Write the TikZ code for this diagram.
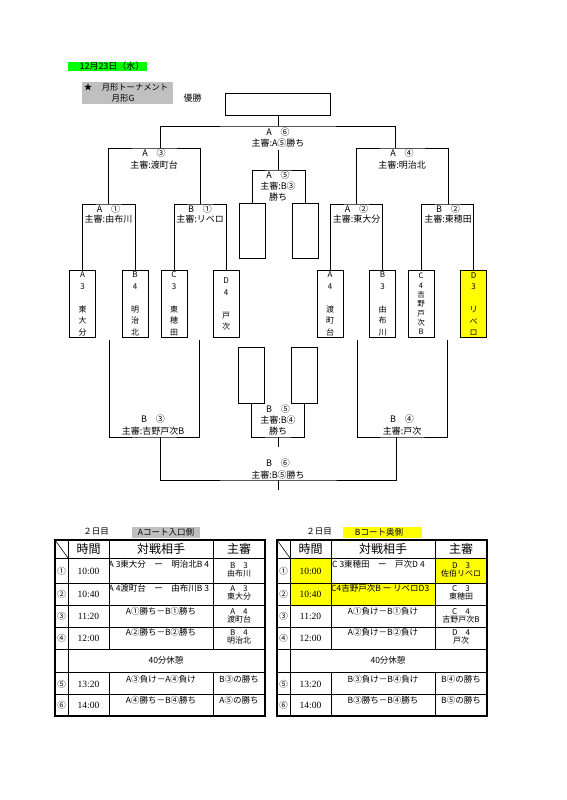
\documentclass[tikz,border=0pt]{standalone}
\usepackage{fontspec}
\newfontfamily\cjk{Noto Sans CJK JP}
\newfontfamily\latf{Liberation Serif}
\definecolor{hlgreen}{RGB}{0,255,0}
\definecolor{hlyellow}{RGB}{255,255,0}
\definecolor{hlgray}{RGB}{192,192,192}
\newcommand\myfs[2]{\fontsize{#1}{#2}\selectfont}
\tikzset{
  ln/.style={line width=0.8pt},
  lb/.style={font=\cjk\myfs{9}{11.5}, inner sep=0pt, align=center},
  team/.style={draw, line width=0.8pt, minimum width=26pt, minimum height=67pt, inner sep=0pt, anchor=north, align=center, font=\cjk\myfs{8}{11.5}},
  slot/.style={draw, line width=0.8pt, minimum width=26pt, minimum height=55pt, inner sep=0pt, anchor=north west},
  tx/.style={font=\cjk\myfs{8.5}{9}, inner sep=0pt, align=center},
  tm/.style={font=\latf\myfs{9.5}{10}, inner sep=0pt},
  tx2/.style={font=\cjk\myfs{8}{8.5}, inner sep=0pt, align=center},
  hd/.style={font=\cjk\myfs{12}{14}, inner sep=0pt},
  gl/.style={line width=0.6pt},
  gb/.style={line width=1.3pt},
}
\newcommand\mygrid{%
  \foreach \yy in {558,583,605,627,649,672,694} {\draw[gl] (55,\yy) -- (265,\yy);}
  \draw[gl] (68,540) -- (68,716);
  \draw[gl] (109,540) -- (109,649); \draw[gl] (109,672) -- (109,716);
  \draw[gl] (213,540) -- (213,649); \draw[gl] (213,672) -- (213,716);
  \draw[gl] (55,540) -- (68,558);
  \draw[gb] (55,540) rectangle (265,716);
  \node[hd] at (88.5,549) {時間};
  \node[hd] at (161,549) {対戦相手};
  \node[hd] at (239,549) {主審};
  \foreach \cc/\tt/\yy in {①/10:00/571,②/10:40/594,③/11:20/616,④/12:00/638,⑤/13:20/684,⑥/14:00/705} {
    \node[tx] at (61.5,\yy) {\cc};
    \node[tm] at (88.5,\yy) {\tt};
  }
  \node[tx] at (166,660) {40分休憩};
}
\begin{document}
\begin{tikzpicture}[x=1pt,y=-1pt]
\useasboundingbox (0,0) rectangle (567,800);
\fill[white] (0,0) rectangle (567,800);

% ---- header labels ----
\fill[hlgreen] (68,62) rectangle (147,71);
\node[tx, font=\cjk\myfs{9}{10}] (date) at (112,66.5) {12月23日（水）};
\fill[hlgray] (82,82) rectangle (173,104);
\node[tx] (star) at (88,87.5) {★};
\node[tx, font=\cjk\myfs{8.3}{9}] (title) at (135,87.5) {月形トーナメント};
\node[tx] (grp) at (123,98) {月形G};
\node[lb] (yusho) at (192.5,98) {優勝};

% ---- champion ----
\node[draw, ln, minimum width=105pt, minimum height=22pt, inner sep=0pt] (champ) at (278,104) {};

% ---- team boxes ----
\node[team] (tA3) at (82.5,270) {A\\3\\[11.5pt]東\\大\\分};
\node[team] (tB4) at (135,270) {B\\4\\[11.5pt]明\\治\\北};
\node[team] (tC3) at (174,270) {C\\3\\[11.5pt]東\\穂\\田};
\node[team] (tD4) at (226,270) {D\\4\\[11.5pt]戸\\次};
\node[team] (tA4) at (330,270) {A\\4\\[11.5pt]渡\\町\\台};
\node[team] (tB3) at (382.5,270) {B\\3\\[11.5pt]由\\布\\川};
\node[team, font=\cjk\myfs{7.5}{9.3}] (tC4) at (421,270) {C\\4\\吉\\野\\戸\\次\\B};
\node[team, fill=hlyellow] (tD3) at (473.5,270) {D\\3\\[11.5pt]リ\\ベ\\ロ};

% ---- slot boxes ----
\node[slot] (sL) at (239,203) {};
\node[slot] (sR) at (292,203) {};
\node[slot, minimum height=56pt] (bL) at (238,347) {};
\node[slot, minimum height=56pt] (bR) at (291,347) {};

% ---- junction coordinates ----
\coordinate (jA1) at (108.5,204);
\coordinate (jB1) at (200,204);
\coordinate (jA2) at (356.5,204);
\coordinate (jB2) at (448,204);
\coordinate (jA3) at (154,148);
\coordinate (jA4) at (402,148);
\coordinate (kA3) at (160,148);
\coordinate (kA4) at (395,148);
\coordinate (jA6) at (278,126);
\coordinate (jA5) at (278,170);
\coordinate (kA5) at (278,150);
\coordinate (jB5) at (278,437);
\coordinate (kB5) at (278,447);
\coordinate (sB3L) at (109,340);
\coordinate (sB3R) at (199,340);
\coordinate (sB4L) at (357,340);
\coordinate (sB4R) at (447,340);
\coordinate (jB3) at (154,437);
\coordinate (jB4) at (402,437);
\coordinate (kB3) at (160,437);
\coordinate (kB4) at (396,437);
\coordinate (jB6) at (278,480);
\coordinate (kB6) at (278,490);

% ---- upper bracket ----
\draw[ln] (tA3.north) |- (jA1) -| (tB4.north);
\draw[ln] (tC3.north) |- (jB1) -| (tD4.north);
\draw[ln] (tA4.north) |- (jA2) -| (tB3.north);
\draw[ln] (tC4.north) |- (jB2) -| (tD3.north);
\draw[ln] (jA1) |- (jA3) -| (jB1);
\draw[ln] (jA2) |- (jA4) -| (jB2);
\draw[ln] (kA3) |- (jA6) -| (kA4);
\draw[ln] (champ.south) -- (jA6);
\draw[ln] (sL.north) |- (jA5) -| (sR.north);
\draw[ln] (jA5) -- (kA5);

% ---- lower bracket ----
\draw[ln] (sB3L) |- (jB3) -| (sB3R);
\draw[ln] (sB4L) |- (jB4) -| (sB4R);
\draw[ln] (bL.south) |- (jB5) -| (bR.south);
\draw[ln] (jB5) -- (kB5);
\draw[ln] (kB3) |- (jB6) -| (kB4);
\draw[ln] (jB6) -- (kB6);

% ---- bracket labels ----
\node[lb] at (278,137.5) {A　⑥\\主審:A⑤勝ち};
\node[lb] at (154,159) {A　③\\主審:渡町台};
\node[lb] at (402,159) {A　④\\主審:明治北};
\node[lb, font=\cjk\myfs{9}{11}] at (278,186) {A　⑤\\主審:B③\\勝ち};
\node[lb, font=\cjk\myfs{9}{10.5}] at (108.5,214) {A　①\\主審:由布川};
\node[lb, font=\cjk\myfs{9}{10.5}] at (200,214) {B　①\\主審:リベロ};
\node[lb, font=\cjk\myfs{9}{10.5}] at (356.5,214) {A　②\\主審:東大分};
\node[lb, font=\cjk\myfs{9}{10.5}] at (448,214) {B　②\\主審:東穂田};
\node[lb] at (153,425) {B　③\\主審:吉野戸次B};
\node[lb] at (402,425) {B　④\\主審:戸次};
\node[lb, font=\cjk\myfs{9}{11}] at (278,420) {B　⑤\\主審:B④\\勝ち};
\node[lb] at (278,469) {B　⑥\\主審:B⑤勝ち};

% ---- table labels ----
\node[tx] at (96,532) {２日目};
\fill[hlgray] (132,527) rectangle (200,537.5);
\node[tx] at (166,532) {Aコート入口側};
\node[tx] at (319,532) {２日目};
\fill[hlyellow] (343,527) rectangle (422,537.5);
\node[tx] at (379,532) {Bコート奥側};

% ---- yellow cells in table B ----
\fill[hlyellow] (291,558) rectangle (331,605);
\fill[hlyellow] (331,583) rectangle (435,605);
\fill[hlyellow] (435,558) rectangle (487,583);

% ---- grids ----
\mygrid
\begin{scope}[xshift=222pt]
\mygrid
\end{scope}

% ---- table A contents ----
\begin{scope}
\clip (109,558) rectangle (213,605);
\node[tx, anchor=west] at (108.5,564) {A 3東大分　ー　明治北B 4};
\node[tx, anchor=west] at (108.5,588) {A 4渡町台　ー　由布川B 3};
\end{scope}
\node[tx] at (161,611) {A①勝ち－B①勝ち};
\node[tx] at (161,632) {A②勝ち－B②勝ち};
\node[tx] at (161,679) {A③負け－A④負け};
\node[tx] at (161,700) {A④勝ち－B④勝ち};
\node[tx2] at (239,570) {B　3\\由布川};
\node[tx2] at (239,593) {A　3\\東大分};
\node[tx2] at (239,616) {A　4\\渡町台};
\node[tx2] at (239,637) {B　4\\明治北};
\node[tx] at (239,679) {B③の勝ち};
\node[tx] at (239,700) {A⑤の勝ち};

% ---- table B contents ----
\begin{scope}
\clip (331,558) rectangle (435,605);
\node[tx, anchor=west] at (332,564) {C 3東穂田　ー　戸次D 4};
\node[tx, anchor=west] at (331,588) {C4吉野戸次B ー リベロD3};
\end{scope}
\node[tx] at (383,611) {A①負け－B①負け};
\node[tx] at (383,632) {A②負け－B②負け};
\node[tx] at (383,679) {B③負け－B④負け};
\node[tx] at (383,700) {B③勝ち－B④勝ち};
\node[tx2] at (461,570) {D　3\\佐伯リベロ};
\node[tx2] at (461,593) {C　3\\東穂田};
\node[tx2] at (461,616) {C　4\\吉野戸次B};
\node[tx2] at (461,637) {D　4\\戸次};
\node[tx] at (461,679) {B④の勝ち};
\node[tx] at (461,700) {B⑤の勝ち};
\end{tikzpicture}
\end{document}
